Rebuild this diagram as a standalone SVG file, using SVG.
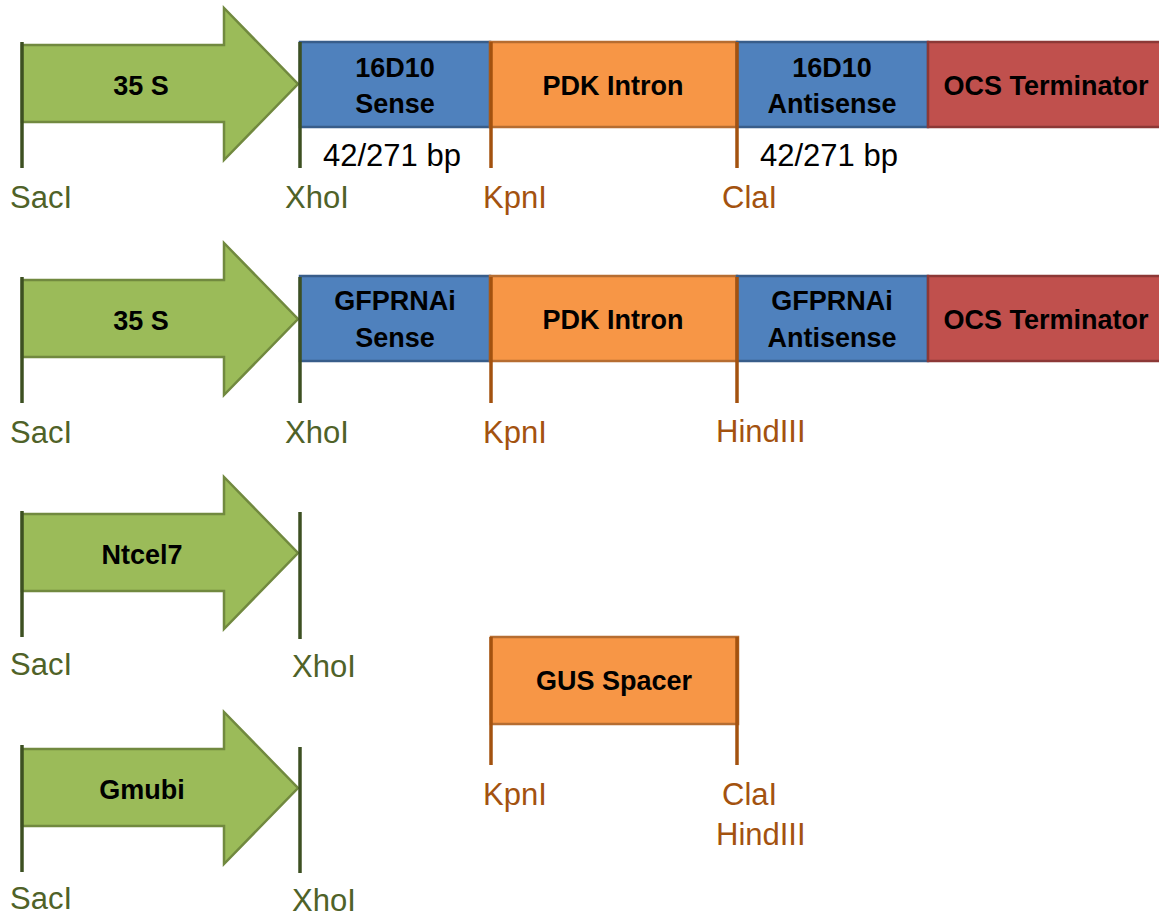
<svg xmlns="http://www.w3.org/2000/svg" width="1159" height="916" viewBox="0 0 1159 916">
<style>
.arrow{fill:#9bbb59;stroke:#71893f;stroke-width:2.5}
.blue{fill:#4f81bd;stroke:#385d8a;stroke-width:2.5}
.orange{fill:#f79646;stroke:#b66d31;stroke-width:2.5}
.red{fill:#c0504d;stroke:#8c3836;stroke-width:2.5}
.gl{stroke:#3d5022;stroke-width:3.5;fill:none}
.ol{stroke:#a3520f;stroke-width:3.5;fill:none}
.lab{font-family:"Liberation Sans",Arial,sans-serif;font-weight:bold;font-size:27px;fill:#000;text-anchor:middle}
.gt{font-family:"Liberation Sans",Arial,sans-serif;font-size:31px;fill:#4f6228}
.ot{font-family:"Liberation Sans",Arial,sans-serif;font-size:31px;fill:#a3520f}
.bt{font-family:"Liberation Sans",Arial,sans-serif;font-size:31px;fill:#000}
</style>
<defs>
<polygon id="arr" points="22,45 224,45 224,8 298,84 224,160 224,122 22,122"/>
</defs>

<g id="row1">
<g id="promoter-35S-1"><use href="#arr" class="arrow"/><text class="lab" x="141" y="95">35 S</text></g>
<g id="sense-16D10"><rect class="blue" x="300" y="42" width="190" height="85"/><text class="lab" x="395" y="77">16D10</text><text class="lab" x="395" y="113">Sense</text></g>
<g id="pdk-intron-1"><rect class="orange" x="490" y="42" width="247" height="85"/><text class="lab" x="613" y="95">PDK Intron</text></g>
<g id="antisense-16D10"><rect class="blue" x="737" y="42" width="191" height="85"/><text class="lab" x="832" y="77">16D10</text><text class="lab" x="832" y="113">Antisense</text></g>
<g id="ocs-1"><rect class="red" x="928" y="42" width="240" height="85"/><text class="lab" x="1046" y="95">OCS Terminator</text></g>
<text class="bt" x="323" y="166">42/271 bp</text>
<text class="bt" x="760" y="166">42/271 bp</text>
</g>

<g id="row2">
<g id="promoter-35S-2"><use href="#arr" class="arrow" transform="translate(0,235)"/><text class="lab" x="141" y="330">35 S</text></g>
<g id="sense-gfp"><rect class="blue" x="300" y="276" width="190" height="85"/><text class="lab" x="395" y="310">GFPRNAi</text><text class="lab" x="395" y="347">Sense</text></g>
<g id="pdk-intron-2"><rect class="orange" x="490" y="276" width="247" height="85"/><text class="lab" x="613" y="329">PDK Intron</text></g>
<g id="antisense-gfp"><rect class="blue" x="737" y="276" width="191" height="85"/><text class="lab" x="832" y="310">GFPRNAi</text><text class="lab" x="832" y="347">Antisense</text></g>
<g id="ocs-2"><rect class="red" x="928" y="276" width="240" height="85"/><text class="lab" x="1046" y="329">OCS Terminator</text></g>
</g>

<g id="ntcel7"><use href="#arr" class="arrow" transform="translate(0,469)"/><text class="lab" x="142" y="564">Ntcel7</text></g>
<g id="gmubi"><use href="#arr" class="arrow" transform="translate(0,704)"/><text class="lab" x="142" y="799">Gmubi</text></g>
<g id="gus-spacer"><rect class="orange" x="491" y="637" width="247" height="87"/><text class="lab" x="614" y="690">GUS Spacer</text></g>

<g id="sites">
<line class="gl" x1="22" y1="42" x2="22" y2="168"/>
<line class="gl" x1="300" y1="42" x2="300" y2="168"/>
<line class="ol" x1="491" y1="42" x2="491" y2="168"/>
<line class="ol" x1="737" y1="42" x2="737" y2="168"/>
<line class="gl" x1="22" y1="277" x2="22" y2="403"/>
<line class="gl" x1="300" y1="277" x2="300" y2="403"/>
<line class="ol" x1="491" y1="277" x2="491" y2="403"/>
<line class="ol" x1="737" y1="277" x2="737" y2="403"/>
<line class="gl" x1="22" y1="511" x2="22" y2="637"/>
<line class="gl" x1="300" y1="512" x2="300" y2="639"/>
<line class="gl" x1="22" y1="745" x2="22" y2="872"/>
<line class="gl" x1="300" y1="747" x2="300" y2="873"/>
<line class="ol" x1="491" y1="637" x2="491" y2="765"/>
<line class="ol" x1="737" y1="637" x2="737" y2="765"/>
</g>

<g id="site-labels">
<text class="gt" x="10" y="208">SacI</text>
<text class="gt" x="285" y="208">XhoI</text>
<text class="ot" x="483" y="208">KpnI</text>
<text class="ot" x="722" y="208">ClaI</text>
<text class="gt" x="10" y="443">SacI</text>
<text class="gt" x="285" y="443">XhoI</text>
<text class="ot" x="483" y="443">KpnI</text>
<text class="ot" x="716" y="442">HindIII</text>
<text class="gt" x="10" y="675">SacI</text>
<text class="gt" x="292" y="677">XhoI</text>
<text class="gt" x="10" y="909">SacI</text>
<text class="gt" x="292" y="911">XhoI</text>
<text class="ot" x="483" y="805">KpnI</text>
<text class="ot" x="722" y="805">ClaI</text>
<text class="ot" x="716" y="845">HindIII</text>
</g>
</svg>
